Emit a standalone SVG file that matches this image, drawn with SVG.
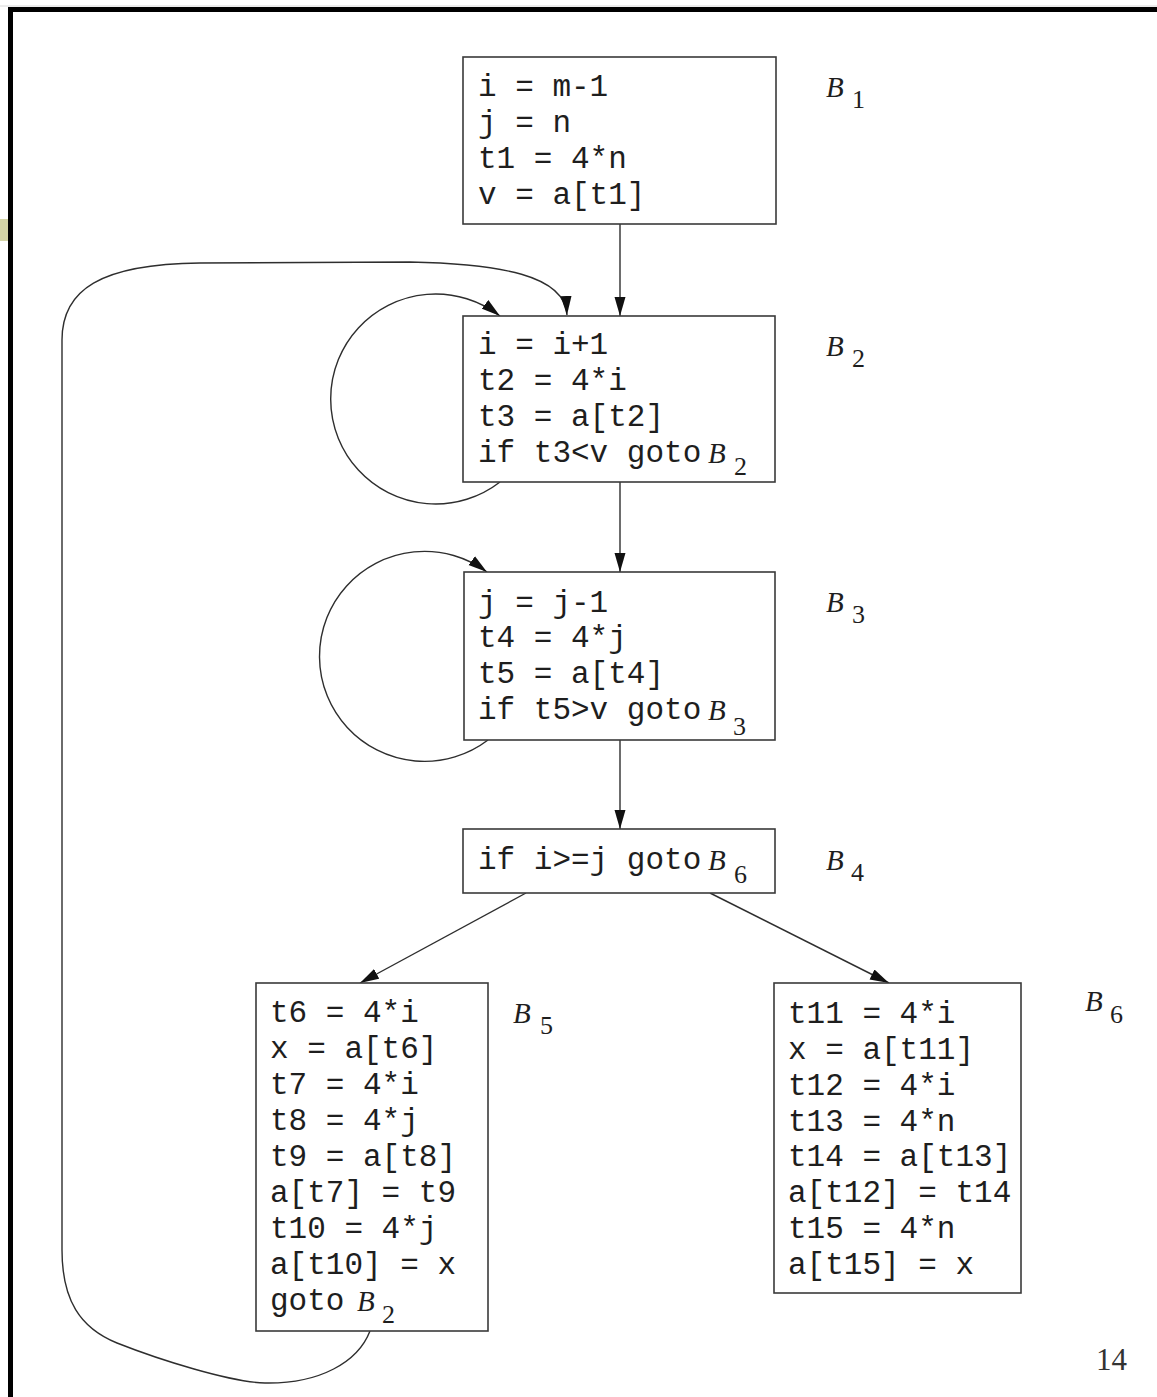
<svg xmlns="http://www.w3.org/2000/svg" width="1157" height="1397" viewBox="0 0 1157 1397">
<style>
.box{fill:#fff;stroke:#3a3a3a;stroke-width:1.6}
.code{font-family:"Liberation Mono",monospace;font-size:31px;fill:#1e1e1e}
.lb{font-family:"Liberation Serif",serif;font-style:italic;font-size:29px;fill:#1e1e1e}
.sub{font-family:"Liberation Serif",serif;font-size:26px;fill:#1e1e1e}
.edge{fill:none;stroke:#2e2e2e;stroke-width:1.4}
</style>
<defs>
<marker id="ah" markerUnits="userSpaceOnUse" markerWidth="20" markerHeight="12" refX="19" refY="6" orient="auto">
<path d="M0,0.5 L19,6 L0,11.5 z" fill="#111"/>
</marker>
</defs>
<rect width="1157" height="1397" fill="#fff"/>
<line x1="0" y1="6" x2="1157" y2="6" stroke="#d8d8d8" stroke-width="1"/>
<rect x="0" y="219" width="8" height="22" fill="#d4d4a6"/>
<rect x="10.5" y="9.5" width="1200" height="1500" fill="none" stroke="#000" stroke-width="5"/>

<g id="connectors">
<path class="edge" marker-end="url(#ah)" d="M620 224 L620 316"/>
<path class="edge" marker-end="url(#ah)" d="M620 482 L620 572"/>
<path class="edge" marker-end="url(#ah)" d="M620 740 L620 829"/>
<path class="edge" marker-end="url(#ah)" d="M526 893 L360 983"/>
<path class="edge" marker-end="url(#ah)" d="M710 893 L889 983"/>
<path class="edge" marker-end="url(#ah)" d="M500 482 A105 105 0 1 1 500 316"/>
<path class="edge" marker-end="url(#ah)" d="M488 740 A105 105 0 1 1 487 572"/>
<path class="edge" marker-end="url(#ah)" d="M370 1331 C358 1362 320 1384 265 1383 C230 1382 160 1360 117 1343 C80 1328 62 1300 62 1250 L62 340 C62 290 100 264 200 263 L410 262 C500 264 565 275 567 315"/>
</g>

<g id="B1">
<rect class="box" x="463" y="57" width="313" height="167"/>
<text class="code" x="478" y="96">i = m-1</text>
<text class="code" x="478" y="132">j = n</text>
<text class="code" x="478" y="168">t1 = 4*n</text>
<text class="code" x="478" y="204">v = a[t1]</text>
<text class="lb" x="826" y="97">B</text><text class="sub" x="852" y="108">1</text>
</g>

<g id="B2">
<rect class="box" x="463" y="316" width="312" height="166"/>
<text class="code" x="478" y="354">i = i+1</text>
<text class="code" x="478" y="390">t2 = 4*i</text>
<text class="code" x="478" y="426">t3 = a[t2]</text>
<text class="code" x="478" y="462">if t3&lt;v goto</text>
<text class="lb" x="708" y="463">B</text><text class="sub" x="734" y="475">2</text>
<text class="lb" x="826" y="356">B</text><text class="sub" x="852" y="367">2</text>
</g>

<g id="B3">
<rect class="box" x="464" y="572" width="311" height="168"/>
<text class="code" x="478" y="612">j = j-1</text>
<text class="code" x="478" y="647">t4 = 4*j</text>
<text class="code" x="478" y="683">t5 = a[t4]</text>
<text class="code" x="478" y="719">if t5&gt;v goto</text>
<text class="lb" x="708" y="720">B</text><text class="sub" x="733" y="735">3</text>
<text class="lb" x="826" y="612">B</text><text class="sub" x="852" y="623">3</text>
</g>

<g id="B4">
<rect class="box" x="463" y="829" width="312" height="64"/>
<text class="code" x="478" y="869">if i&gt;=j goto</text>
<text class="lb" x="708" y="870">B</text><text class="sub" x="734" y="883">6</text>
<text class="lb" x="826" y="870">B</text><text class="sub" x="851" y="881">4</text>
</g>

<g id="B5">
<rect class="box" x="256" y="983" width="232" height="348"/>
<text class="code" x="270" y="1022">t6 = 4*i</text>
<text class="code" x="270" y="1058">x = a[t6]</text>
<text class="code" x="270" y="1094">t7 = 4*i</text>
<text class="code" x="270" y="1130">t8 = 4*j</text>
<text class="code" x="270" y="1166">t9 = a[t8]</text>
<text class="code" x="270" y="1202">a[t7] = t9</text>
<text class="code" x="270" y="1238">t10 = 4*j</text>
<text class="code" x="270" y="1274">a[t10] = x</text>
<text class="code" x="270" y="1310">goto</text>
<text class="lb" x="357" y="1311">B</text><text class="sub" x="382" y="1323">2</text>
<text class="lb" x="513" y="1023">B</text><text class="sub" x="540" y="1034">5</text>
</g>

<g id="B6">
<rect class="box" x="774" y="983" width="247" height="310"/>
<text class="code" x="788" y="1023">t11 = 4*i</text>
<text class="code" x="788" y="1059">x = a[t11]</text>
<text class="code" x="788" y="1095">t12 = 4*i</text>
<text class="code" x="788" y="1131">t13 = 4*n</text>
<text class="code" x="788" y="1166">t14 = a[t13]</text>
<text class="code" x="788" y="1202">a[t12] = t14</text>
<text class="code" x="788" y="1238">t15 = 4*n</text>
<text class="code" x="788" y="1274">a[t15] = x</text>
<text class="lb" x="1085" y="1011">B</text><text class="sub" x="1110" y="1023">6</text>
</g>

<text x="1096" y="1370" font-family="Liberation Serif, serif" font-size="31" fill="#333">14</text>
</svg>
